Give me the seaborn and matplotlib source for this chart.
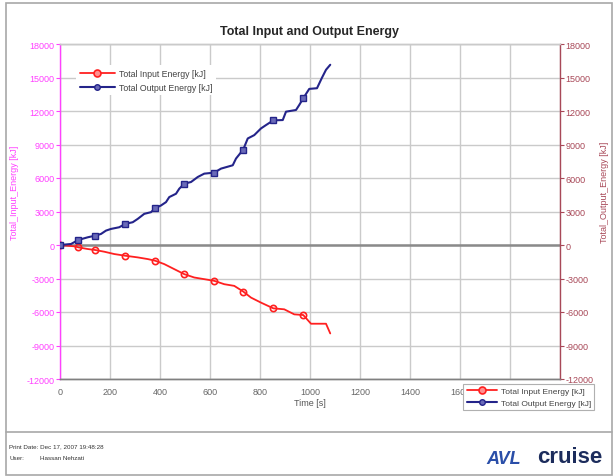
import matplotlib
matplotlib.use("Agg")
import matplotlib.pyplot as plt
from matplotlib.lines import Line2D
from matplotlib.patches import Rectangle
import seaborn as sns
import numpy as np

# ---------------- data ----------------
input_time = [0, 57, 73, 111, 141, 177, 217, 261, 311, 351, 381, 417, 457, 497, 537,
              577, 617, 657, 697, 733, 764, 804, 853, 897, 937, 973, 1004, 1064, 1081]
input_energy = [0, -120, -210, -360, -450, -600, -810, -960, -1110, -1260, -1410, -1710,
                -2160, -2610, -2910, -3060, -3210, -3510, -3660, -4170, -4710, -5160,
                -5670, -5760, -6210, -6270, -7050, -7050, -7920]

output_time = [0, 44, 73, 111, 141, 164, 184, 204, 237, 261, 291, 311, 337, 364, 381,
               404, 424, 437, 464, 477, 497, 524, 551, 577, 617, 644, 691, 704, 733,
               751, 777, 804, 824, 853, 891, 904, 944, 957, 973, 997, 1028, 1047, 1064, 1081]
output_energy = [0, 90, 450, 690, 840, 990, 1290, 1440, 1590, 1890, 2040, 2340, 2790,
                 2940, 3300, 3540, 3840, 4290, 4590, 5040, 5490, 5640, 6090, 6390, 6480,
                 6840, 7140, 7740, 8550, 9540, 9840, 10440, 10740, 11160, 11190, 11940,
                 12090, 12540, 13140, 13980, 14040, 14940, 15690, 16140]

marker_times = [0, 73, 141, 261, 381, 497, 617, 733, 853, 973]

x_ticks = [0, 200, 400, 600, 800, 1000, 1200, 1400, 1600, 1800, 2000]
y_ticks = [-12000, -9000, -6000, -3000, 0, 3000, 6000, 9000, 12000, 15000, 18000]

title = "Total Input and Output Energy"
label_in = "Total Input Energy [kJ]"
label_out = "Total Output Energy [kJ]"

# ---------------- style ----------------
sns.set_style("white")
plt.rcParams['font.family'] = ['Liberation Sans', 'DejaVu Sans']

RED = "#ff2020"
BLUE = "#24248a"
MAG = "#ff40ff"
BROWN = "#a84858"
GRID = "#cacaca"

W, H = 613, 477
fig = plt.figure(figsize=(W / 100, H / 100), dpi=100)

def fx(px):
    return px / W

def fy(py):
    return 1 - py / H

# outer frame and footer separator
fig.add_artist(Rectangle((fx(6), fy(476)), fx(612) - fx(6), fy(4) - fy(476),
                         transform=fig.transFigure, fill=False, edgecolor="#a8a8a8", lw=1.2))
fig.add_artist(Line2D([fx(6), fx(612)], [fy(433), fy(433)], transform=fig.transFigure,
                      color="#a8a8a8", lw=1.2))

ax = fig.add_axes([fx(60), fy(380), fx(560) - fx(60), fy(45) - fy(380)])
ax2 = ax.twinx()

in_idx = [input_time.index(t) for t in marker_times]
out_idx = [output_time.index(t) for t in marker_times]

sns.lineplot(x=input_time, y=input_energy, ax=ax, color=RED, lw=1.3, marker="o",
             markersize=4.5, markerfacecolor="none", markeredgecolor=RED, markeredgewidth=1.2,
             markevery=in_idx, sort=False, zorder=5)
sns.lineplot(x=output_time, y=output_energy, ax=ax2, color=BLUE, lw=1.5, marker="s",
             markersize=4, markerfacecolor="#6a6ab8", markeredgecolor=BLUE, markeredgewidth=1.0,
             markevery=out_idx, sort=False, zorder=5)

for a in (ax, ax2):
    a.set_xlim(x_ticks[0], x_ticks[-1])
    a.set_ylim(y_ticks[0], y_ticks[-1])
    a.set_yticks(y_ticks)

ax.set_xticks(x_ticks)
ax.set_xticklabels([str(t) for t in x_ticks])
# the two rightmost labels sit beneath the opaque lower legend in the reference
for lbl in ax.get_xticklabels()[-2:]:
    lbl.set_visible(False)
ax.grid(True, color=GRID, lw=1.0)
ax.set_axisbelow(True)
ax.axhline(0, color="#8a8a8a", lw=1.8, zorder=1)

ax.set_yticklabels([str(v) for v in y_ticks])
ax2.set_yticklabels([str(v) for v in y_ticks])

ax.tick_params(axis="x", colors="#666666", labelsize=6.5, length=0, pad=6)
ax.tick_params(axis="y", colors=MAG, labelcolor=MAG, labelsize=6.5, length=3, width=0.8, pad=1)
ax2.tick_params(axis="y", colors=BROWN, labelcolor=BROWN, labelsize=6.5, length=3, width=0.8, pad=1)

for a in (ax, ax2):
    a.spines["top"].set_color(GRID)
    a.spines["bottom"].set_color("#808080")
    a.spines["left"].set_color(MAG)
    a.spines["right"].set_color(BROWN)
    for s in a.spines.values():
        s.set_linewidth(1.0)
ax2.spines["left"].set_visible(False)
ax.spines["right"].set_visible(False)

ax.set_xlabel("Time [s]", fontsize=6.5, color="#555555", labelpad=1)
ax.set_ylabel("Total_Input_Energy [kJ]", fontsize=6.5, color=MAG, labelpad=0)
ax.yaxis.set_label_coords((19 - 60) / 500, 0.56)
ax2.set_ylabel("Total_Output_Energy [kJ]", fontsize=6.5, color=BROWN, labelpad=0)
ax2.yaxis.set_label_coords((600 - 60) / 500, 0.56)

ax.set_title(title, fontsize=9, fontweight="bold", pad=7)

handles = [
    Line2D([], [], color=RED, lw=1.3, marker="o", markersize=5, markerfacecolor="#ff9090",
           markeredgecolor=RED, markeredgewidth=1.2, label=label_in),
    Line2D([], [], color=BLUE, lw=1.5, marker="o", markersize=4, markerfacecolor="#6a6ab8",
           markeredgecolor=BLUE, label=label_out),
]
leg1 = ax2.legend(handles=handles, loc="upper left", bbox_to_anchor=(fx(72), fy(62)),
                  bbox_transform=fig.transFigure, frameon=True, fontsize=6.3,
                  handlelength=4.0, handletextpad=0.5, labelspacing=0.55, borderpad=0.4,
                  fancybox=False, edgecolor="white", framealpha=1.0)
leg1.get_frame().set_linewidth(0)
for t in leg1.get_texts():
    t.set_color("#444444")
ax2.add_artist(leg1)

leg2 = fig.legend(handles=handles, loc="upper left", bbox_to_anchor=(fx(459), fy(381)),
                  bbox_transform=fig.transFigure, frameon=True, fontsize=6,
                  handlelength=3.6, handletextpad=0.5, labelspacing=0.4, borderpad=0.4,
                  fancybox=False, edgecolor="#b0b0b0", framealpha=1.0)
leg2.get_frame().set_linewidth(0.8)
leg2.set_zorder(10)
for t in leg2.get_texts():
    t.set_color("#444444")

# footer
fig.text(fx(9), fy(447), "Print Date: Dec 17, 2007 19:48:28", fontsize=4.5, color="#333333", va="center")
fig.text(fx(9), fy(459), "User:", fontsize=4.5, color="#333333", va="center")
fig.text(fx(40), fy(459), "Hassan Nehzati", fontsize=4.5, color="#333333", va="center")
fig.text(fx(486), fy(460), "AVL", fontsize=13, fontweight="bold", style="italic",
         color="#2a4ea8", va="center")
fig.text(fx(537), fy(458), "cruise", fontsize=16, fontweight="bold", color="#1c2c5c", va="center")

fig.savefig("out.png", dpi=100)
